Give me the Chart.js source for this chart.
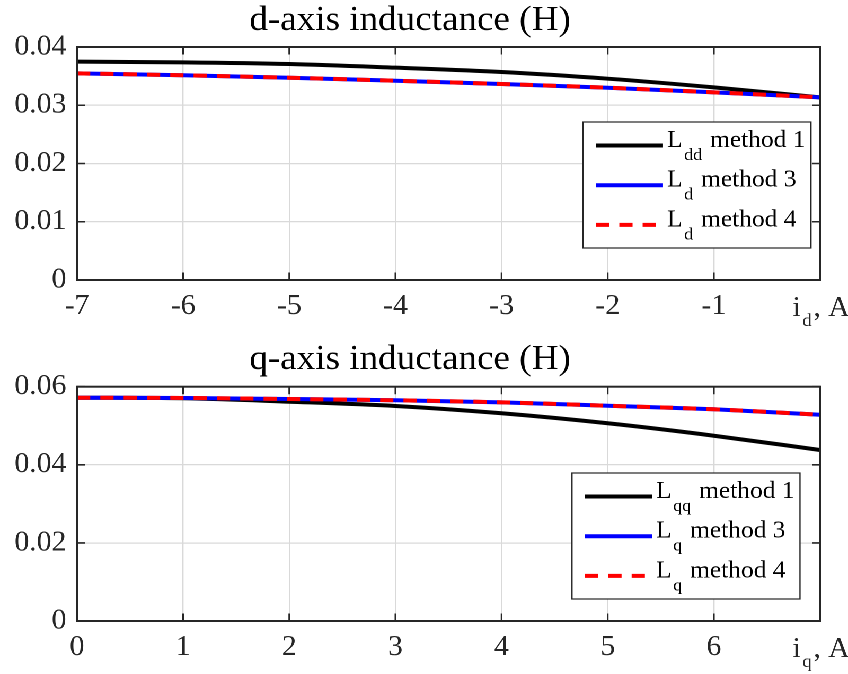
<!DOCTYPE html>
<html>
<head>
<meta charset="utf-8">
<script src="https://cdn.jsdelivr.net/npm/chart.js@4.4.1/dist/chart.umd.min.js"></script>
<style>
html, body { margin: 0; padding: 0; background: #fff; overflow: hidden; }
#stage { position: absolute; left: 0; top: 0; height: 674px; transform-origin: 0 0; }
.box { position: absolute; left: 0; }
</style>
</head>
<body>
<div id="stage">
  <div class="box" id="boxD" style="top:0;height:330px"><canvas id="chartD"></canvas></div>
  <div class="box" id="boxQ" style="top:330px;height:344px"><canvas id="chartQ"></canvas></div>
</div>
<script>
// d-axis current sweep (A) and inductances (H)
const idCurrent = [-7, -6, -5, -4, -3, -2, -1, 0];
const LddMethod1 = [0.03748, 0.03737, 0.03708, 0.03645, 0.03571, 0.03456, 0.03307, 0.03136];
const LdMethod3 = [0.03548, 0.03514, 0.03473, 0.03421, 0.03365, 0.03301, 0.03222, 0.03136];
const LdMethod4 = [0.03548, 0.03514, 0.03473, 0.03421, 0.03365, 0.03301, 0.03222, 0.03136];

// q-axis current sweep (A) and inductances (H)
const iqCurrent = [0, 1, 2, 3, 4, 5, 6, 7];
const LqqMethod1 = [0.05718, 0.05703, 0.05616, 0.05506, 0.05319, 0.05063, 0.04745, 0.04379];
const LqMethod3 = [0.05718, 0.05711, 0.05685, 0.05652, 0.05600, 0.05513, 0.05421, 0.05283];
const LqMethod4 = [0.05718, 0.05711, 0.05685, 0.05652, 0.05600, 0.05513, 0.05421, 0.05283];

const legendD = ['L_{dd} method 1', 'L_{d} method 3', 'L_{d} method 4'];
const legendQ = ['L_{qq} method 1', 'L_{q} method 3', 'L_{q} method 4'];
const titleD = 'd-axis inductance (H)';
const titleQ = 'q-axis inductance (H)';
const xEndLabelD = 'i_{d}, A';
const xEndLabelQ = 'i_{q}, A';

// the original figure is a little stretched sideways
const SX = 1.06;
const W = 848 / SX;
const INK = '#262626';
const SERIF = "'Liberation Serif', 'Times New Roman', serif";

document.getElementById('stage').style.width = W + 'px';
document.getElementById('stage').style.transform = 'scaleX(' + SX + ')';
document.getElementById('boxD').style.width = W + 'px';
document.getElementById('boxQ').style.width = W + 'px';

// "L_{dd} method 1" -> ['L', 'dd', ' method 1']
function richParts(s) {
  const m = s.match(/^(.*?)_\{(.*?)\}(.*)$/);
  return m ? [m[1], m[2], m[3]] : [s, '', ''];
}

function drawRich(ctx, s, x, y, size, subSize, subDy, gap, align) {
  const [a, b, c] = richParts(s);
  const big = size + 'px ' + SERIF;
  const small = subSize + 'px ' + SERIF;
  ctx.font = big;
  const wa = ctx.measureText(a).width + gap;
  const wc = ctx.measureText(c).width;
  ctx.font = small;
  const wb = ctx.measureText(b).width + gap;
  const x0 = align === 'center' ? x - (wa + wb + wc) / 2 : x;
  ctx.textAlign = 'left';
  ctx.textBaseline = 'alphabetic';
  ctx.font = big;
  ctx.fillText(a, x0, y);
  ctx.font = small;
  ctx.fillText(b, x0 + wa, y + subDy);
  ctx.font = big;
  ctx.fillText(c, x0 + wa + wb, y);
}

// box, inward ticks, end-of-axis label and legend in the MATLAB look
const matlabFrame = {
  id: 'matlabFrame',
  afterDraw(chart, args, opts) {
    const {ctx, chartArea: a} = chart;
    const x = chart.scales.x, y = chart.scales.y;
    ctx.save();

    ctx.strokeStyle = INK;
    ctx.lineWidth = 1.6;
    ctx.beginPath();
    const tl = 7.5;
    x.ticks.forEach(t => {
      const px = x.getPixelForValue(t.value);
      ctx.moveTo(px, a.bottom); ctx.lineTo(px, a.bottom - tl);
      ctx.moveTo(px, a.top); ctx.lineTo(px, a.top + tl);
    });
    y.ticks.forEach(t => {
      const py = y.getPixelForValue(t.value);
      ctx.moveTo(a.left, py); ctx.lineTo(a.left + tl, py);
      ctx.moveTo(a.right, py); ctx.lineTo(a.right - tl, py);
    });
    ctx.stroke();
    ctx.lineWidth = 2;
    ctx.strokeRect(a.left, a.top, a.width, a.height);

    ctx.fillStyle = INK;
    drawRich(ctx, opts.endLabel, x.getPixelForValue(x.max) + 1, a.bottom + 36, 28, 18, 10, 1.5, 'center');

    const bw = 228 / SX, bh = 126;
    const bx = a.right - opts.legendRight / SX - bw;
    const by = opts.legendTop != null ? a.top + opts.legendTop : a.bottom - opts.legendBottom - bh;
    ctx.fillStyle = '#fff';
    ctx.fillRect(bx, by, bw, bh);
    ctx.lineWidth = 1.2;
    ctx.strokeStyle = INK;
    ctx.strokeRect(bx, by, bw, bh);
    chart.data.datasets.forEach((ds, i) => {
      const ry = by + 23.5 + i * 39.7;
      ctx.beginPath();
      ctx.setLineDash(ds.borderDash || []);
      ctx.strokeStyle = ds.borderColor;
      ctx.lineWidth = ds.borderWidth;
      ctx.moveTo(bx + 13 / SX, ry);
      ctx.lineTo(bx + 80 / SX, ry);
      ctx.stroke();
      ctx.setLineDash([]);
      ctx.fillStyle = '#000';
      drawRich(ctx, ds.label, bx + 84 / SX, ry + 1.5, 24, 17, 13, 1.5, 'left');
    });
    ctx.restore();
  }
};

function series(xs, ys) {
  return xs.map((v, i) => ({x: v, y: ys[i]}));
}

function makeChart(id, xs, ys, labels, cfg) {
  const tickFont = {family: SERIF, size: 28};
  const grid = {color: '#d9d9d9', lineWidth: 1.2, drawTicks: false};
  return new Chart(id, {
    type: 'line',
    data: {
      datasets: [{
        label: labels[0],
        data: series(xs, ys[0]),
        borderColor: '#000000',
        borderWidth: 4,
        order: 3,
      }, {
        label: labels[1],
        data: series(xs, ys[1]),
        borderColor: '#0000ff',
        borderWidth: 4,
        order: 2,
      }, {
        label: labels[2],
        data: series(xs, ys[2]),
        borderColor: '#ff0000',
        borderWidth: 4,
        borderDash: [12.5, 9.5],
        order: 1,
      }]
    },
    options: {
      responsive: true,
      maintainAspectRatio: false,
      animation: false,
      devicePixelRatio: 2,
      layout: {padding: {left: 0, right: W - 820 / SX, top: 0, bottom: 0}},
      elements: {
        point: {radius: 0},
        line: {cubicInterpolationMode: 'monotone', borderCapStyle: 'butt'}
      },
      plugins: {
        legend: {display: false},
        tooltip: {enabled: false},
        title: {
          display: true,
          text: cfg.title,
          color: '#000',
          font: {family: SERIF, size: 35, weight: 'normal'},
          padding: {top: cfg.titleTop, bottom: cfg.titleBottom}
        },
        matlabFrame: cfg.frame
      },
      scales: {
        x: {
          type: 'linear',
          min: xs[0],
          max: xs[xs.length - 1],
          grid: grid,
          border: {display: false},
          ticks: {
            stepSize: 1,
            autoSkip: false,
            maxRotation: 0,
            padding: 10,
            color: INK,
            font: tickFont,
            callback: v => v === xs[xs.length - 1] ? '' : String(v)
          },
          afterFit: s => { s.height = cfg.xHeight; }
        },
        y: {
          min: 0,
          max: cfg.yMax,
          grid: grid,
          border: {display: false},
          ticks: {stepSize: cfg.yStep, padding: 10, color: INK, font: tickFont},
          afterFit: s => { s.width = 77 / SX; }
        }
      }
    },
    plugins: [matlabFrame]
  });
}

makeChart('chartD', idCurrent, [LddMethod1, LdMethod3, LdMethod4], legendD, {
  title: titleD, titleTop: 0, titleBottom: 5, xHeight: 50, yMax: 0.04, yStep: 0.01,
  frame: {endLabel: xEndLabelD, legendRight: 9, legendTop: 75}
});

makeChart('chartQ', iqCurrent, [LqqMethod1, LqMethod3, LqMethod4], legendQ, {
  title: titleQ, titleTop: 8.9, titleBottom: 5.8, xHeight: 53, yMax: 0.06, yStep: 0.02,
  frame: {endLabel: xEndLabelQ, legendRight: 20, legendBottom: 22}
});
</script>
</body>
</html>
